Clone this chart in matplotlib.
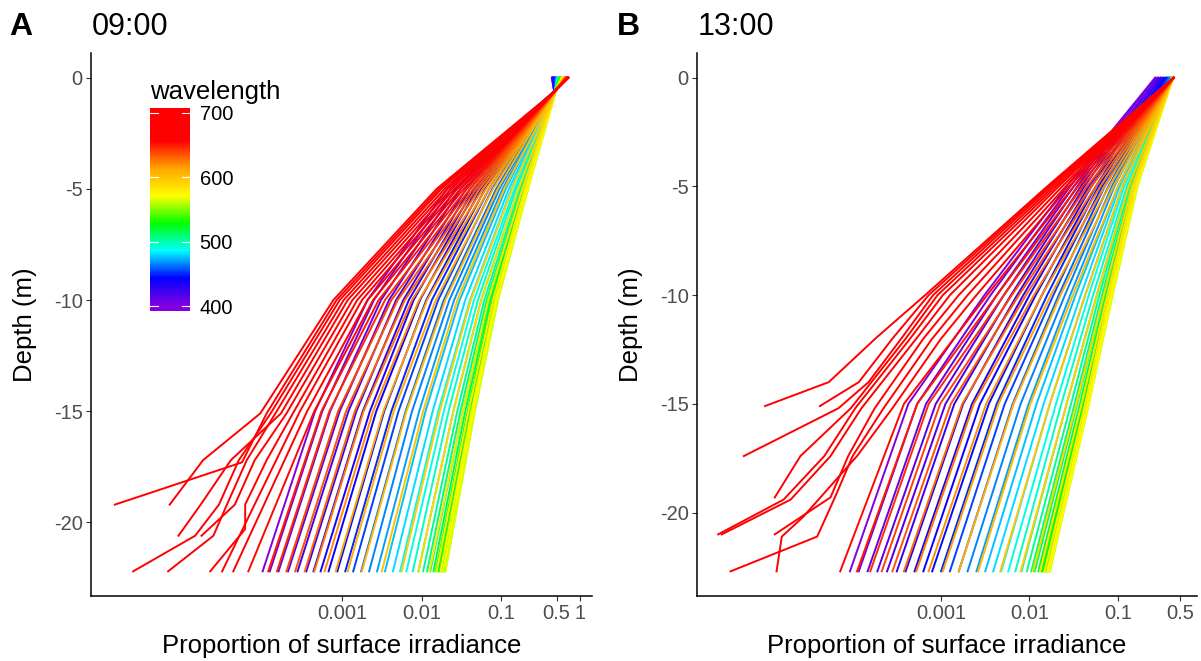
import matplotlib
matplotlib.use("Agg")
import matplotlib.pyplot as plt
import numpy as np
from matplotlib.colors import LinearSegmentedColormap, Normalize

plt.rcParams["font.family"] = ["Liberation Sans", "DejaVu Sans"]

wavelength = list(range(400, 701, 5))

# values are log10(proportion of surface irradiance)
# ---- A, 09:00 ----
depth_a = [0, -0.6, -5, -10, -15, -22.2]
a_0 = [-0.36, -0.36, -0.35, -0.35, -0.35, -0.34, -0.34, -0.33, -0.33, -0.32,
       -0.32, -0.31, -0.31, -0.30, -0.30, -0.29, -0.29, -0.28, -0.28, -0.28,
       -0.27, -0.27, -0.27, -0.26, -0.26, -0.26, -0.25, -0.25, -0.25, -0.24,
       -0.24, -0.24, -0.23, -0.23, -0.23, -0.22, -0.22, -0.22, -0.21, -0.21,
       -0.21, -0.20, -0.20, -0.20, -0.19, -0.19, -0.19, -0.18, -0.18, -0.18,
       -0.17, -0.17, -0.17, -0.17, -0.16, -0.16, -0.16, -0.16, -0.15, -0.15,
       -0.15]
a_06 = [-0.33] * 11 + [-0.32] * 20 + [-0.31] * 10 + [-0.32] * 20
a_5 = [-1.68, -1.63, -1.57, -1.51, -1.44, -1.39, -1.34, -1.30, -1.25, -1.20,
       -1.15, -1.11, -1.06, -1.02, -0.98, -0.94, -0.90, -0.87, -0.83, -0.81,
       -0.78, -0.76, -0.74, -0.73, -0.71, -0.70, -0.69, -0.69, -0.68, -0.67,
       -0.67, -0.67, -0.66, -0.66, -0.67, -0.68, -0.70, -0.73, -0.78, -0.86,
       -0.96, -1.04, -1.10, -1.15, -1.19, -1.23, -1.27, -1.31, -1.35, -1.39,
       -1.43, -1.47, -1.51, -1.55, -1.59, -1.63, -1.67, -1.71, -1.75, -1.78,
       -1.81]
a_10 = [-2.68, -2.60, -2.51, -2.41, -2.32, -2.23, -2.16, -2.10, -2.02, -1.94,
        -1.87, -1.79, -1.72, -1.65, -1.59, -1.52, -1.45, -1.39, -1.34, -1.29,
        -1.25, -1.21, -1.18, -1.15, -1.13, -1.11, -1.09, -1.08, -1.07, -1.06,
        -1.05, -1.04, -1.04, -1.04, -1.06, -1.07, -1.10, -1.16, -1.25, -1.38,
        -1.55, -1.70, -1.82, -1.93, -2.03, -2.12, -2.21, -2.30, -2.38, -2.46,
        -2.54, -2.61, -2.68, -2.75, -2.81, -2.87, -2.93, -2.98, -3.03, -3.07,
        -3.11]
a_15 = [-3.34, -3.25, -3.15, -3.03, -2.92, -2.82, -2.74, -2.65, -2.57, -2.47,
        -2.38, -2.29, -2.20, -2.12, -2.03, -1.95, -1.86, -1.79, -1.72, -1.66,
        -1.60, -1.55, -1.51, -1.48, -1.45, -1.42, -1.40, -1.38, -1.37, -1.35,
        -1.34, -1.34, -1.33, -1.33, -1.35, -1.37, -1.41, -1.48, -1.60, -1.77,
        -1.98, -2.19, -2.35, -2.48, -2.61, -2.73, -2.84, -2.95, -3.05, -3.16,
        -3.26, -3.35, -3.44, -3.53] + [None] * 7
a_22 = [-4.00, -3.91, -3.80, -3.68, -3.56, -3.45, -3.36, -3.27, -3.17, -3.06,
        -2.96, -2.86, -2.76, -2.66, -2.56, -2.46, -2.36, -2.27, -2.19, -2.11,
        -2.04, -1.98, -1.93, -1.89, -1.85, -1.82, -1.79, -1.77, -1.75, -1.73,
        -1.72, -1.71, -1.70, -1.70, -1.73, -1.76, -1.81, -1.90, -2.04, -2.25,
        -2.50, -2.75, -2.93, -3.08, -3.22, -3.35, -3.47, -3.59, -3.70, -3.82,
        -3.93, -4.18, -4.37, -4.51] + [None] * 7
# deepest red profiles are noisy, (depth, value) pairs below 10 m
tail_a = {
    670: [(-15.1, -3.62), (-17.2, -3.95), (-19.2, -4.22), (-20.3, -4.22), (-22.2, -4.66)],
    675: [(-15.1, -3.70), (-17.2, -4.10), (-19.2, -4.35), (-20.6, -4.77)],
    680: [(-15.1, -3.77), (-17.2, -4.40), (-19.2, -4.78), (-20.6, -5.06)],
    685: [(-15.1, -3.84), (-17.2, -4.20), (-19.2, -4.45), (-20.6, -4.62), (-22.2, -5.19)],
    690: [(-15.1, -3.90), (-17.2, -4.30), (-19.2, -4.55), (-20.6, -4.85), (-22.2, -5.63)],
    695: [(-15.1, -3.95), (-17.3, -4.26), (-19.2, -5.86)],
    700: [(-15.1, -4.03), (-17.2, -4.75), (-19.2, -5.17)],
}

# ---- B, 13:00 ----
depth_b = [0, -5, -10, -15, -22.7]
b_0 = ([-0.58, -0.57, -0.55, -0.54, -0.52, -0.51, -0.49, -0.48, -0.46, -0.45,
        -0.44, -0.43, -0.42, -0.41, -0.40]
       + [-0.39] * 14 + [-0.38] * 12 + [-0.37] * 20)
b_5 = [-1.58, -1.54, -1.50, -1.46, -1.42, -1.38, -1.33, -1.30, -1.25, -1.22,
       -1.18, -1.15, -1.11, -1.07, -1.04, -1.00, -0.98, -0.95, -0.93, -0.90,
       -0.88, -0.87, -0.85, -0.84, -0.83, -0.82, -0.81, -0.81, -0.80, -0.79,
       -0.79, -0.79, -0.78, -0.78, -0.79, -0.79, -0.80, -0.82, -0.84, -0.88,
       -0.95, -1.00, -1.05, -1.10, -1.15, -1.20, -1.25, -1.30, -1.35, -1.40,
       -1.45, -1.50, -1.55, -1.59, -1.63, -1.67, -1.70, -1.73, -1.76, -1.78,
       -1.80]
b_10 = [-2.51, -2.44, -2.37, -2.29, -2.21, -2.14, -2.07, -2.00, -1.93, -1.86,
        -1.80, -1.73, -1.67, -1.60, -1.54, -1.48, -1.42, -1.37, -1.33, -1.28,
        -1.24, -1.21, -1.18, -1.16, -1.14, -1.12, -1.11, -1.10, -1.09, -1.08,
        -1.07, -1.07, -1.06, -1.06, -1.07, -1.08, -1.10, -1.12, -1.16, -1.24,
        -1.37, -1.51, -1.65, -1.76, -1.86, -1.95, -2.04, -2.12, -2.20, -2.29,
        -2.37, -2.48, -2.60, -2.70, -2.80, -2.90, -2.98, -3.04, -3.09, -3.14,
        -3.18]
b_15 = [-3.37, -3.27, -3.17, -3.06, -2.95, -2.85, -2.75, -2.65, -2.56, -2.46,
        -2.37, -2.28, -2.19, -2.10, -2.01, -1.92, -1.84, -1.77, -1.70, -1.64,
        -1.58, -1.53, -1.49, -1.46, -1.43, -1.40, -1.39, -1.37, -1.36, -1.35,
        -1.34, -1.33, -1.33, -1.33, -1.33, -1.35, -1.37, -1.41, -1.47, -1.58,
        -1.77, -1.99, -2.18, -2.35, -2.49, -2.63, -2.76, -2.89, -3.01, -3.14,
        -3.27, -3.42] + [None] * 9
b_22 = [-4.03, -3.93, -3.83, -3.72, -3.61, -3.50, -3.40, -3.30, -3.20, -3.10,
        -3.00, -2.90, -2.80, -2.70, -2.60, -2.50, -2.41, -2.32, -2.24, -2.16,
        -2.09, -2.03, -1.98, -1.94, -1.90, -1.87, -1.85, -1.83, -1.81, -1.80,
        -1.79, -1.78, -1.77, -1.77, -1.78, -1.80, -1.83, -1.88, -1.96, -2.10,
        -2.33, -2.58, -2.80, -2.98, -3.14, -3.28, -3.42, -3.55, -3.67, -3.80,
        -3.95, -4.14] + [None] * 9
tail_b = {
    660: [(-12.0, -3.00), (-15.2, -3.55), (-17.4, -3.95), (-20.2, -4.56), (-21.1, -4.80), (-22.7, -4.86)],
    665: [(-12.0, -3.10), (-15.2, -3.65), (-17.4, -4.00), (-19.3, -4.20), (-21.1, -4.40), (-22.7, -5.38)],
    670: [(-12.0, -3.20), (-15.2, -3.75), (-17.4, -4.05), (-19.3, -4.25), (-21.0, -4.88)],
    675: [(-12.0, -3.28), (-15.2, -3.90), (-17.4, -4.25), (-19.4, -4.70), (-21.0, -5.48)],
    680: [(-12.0, -3.35), (-15.2, -3.97), (-17.4, -4.32), (-19.4, -4.78), (-21.0, -5.52)],
    685: [(-12.0, -3.40), (-15.2, -4.02), (-17.4, -4.59), (-19.3, -4.88)],
    690: [(-12.0, -3.45), (-14.0, -3.82), (-15.2, -4.16), (-17.4, -5.23)],
    695: [(-12.0, -3.55), (-14.0, -3.93), (-15.1, -4.37)],
    700: [(-11.95, -3.73), (-14.0, -4.27), (-15.1, -4.99)],
}

cmap = LinearSegmentedColormap.from_list(
    "wl", ["#8200E0", "#0000FF", "#00FFFF", "#00FF00",
           "#FFFF00", "#FFA500", "#FF0000", "#FF0000"])
norm = Normalize(400, 700)


def draw(ax, depths, cols, tails):
    for i, wl in enumerate(wavelength):
        d, v = [], []
        for dep, col in zip(depths, cols):
            if col[i] is not None:
                d.append(dep)
                v.append(col[i])
        for dep, val in tails.get(wl, []):
            d.append(dep)
            v.append(val)
        ax.plot(10 ** np.array(v), d, color=cmap(norm(wl)), lw=1.4)


def style(ax, xticks, xlabels, xlim, ylim):
    ax.set_xscale("log")
    ax.set_xlim(*xlim)
    ax.set_ylim(*ylim)
    ax.set_xticks(xticks)
    ax.set_xticklabels(xlabels)
    ax.xaxis.set_minor_locator(matplotlib.ticker.NullLocator())
    ax.set_yticks([0, -5, -10, -15, -20])
    ax.set_yticklabels(["0", "-5", "-10", "-15", "-20"])
    for s in ["top", "right"]:
        ax.spines[s].set_visible(False)
    for s in ["left", "bottom"]:
        ax.spines[s].set_linewidth(1.1)
    ax.tick_params(direction="out", length=3.5, width=0.8, color="#333333",
                   labelcolor="#4D4D4D", labelsize=14.5, pad=2.5)
    ax.set_xlabel("Proportion of surface irradiance", fontsize=18.5, va="center")
    ax.set_ylabel("Depth (m)", fontsize=18.5, va="center")
    ax.xaxis.set_label_coords(0.5, -0.092)
    ax.yaxis.set_label_coords(-0.132, 0.5)


fig = plt.figure(figsize=(12.01, 6.61), dpi=100)
ax_a = fig.add_axes([0.0758, 0.0983, 0.4171, 0.8215])
ax_b = fig.add_axes([0.5803, 0.0983, 0.4163, 0.8215])

draw(ax_a, depth_a, [a_0, a_06, a_5, a_10, a_15, a_22], tail_a)
draw(ax_b, depth_b, [b_0, b_5, b_10, b_15, b_22], tail_b)

style(ax_a, [0.001, 0.01, 0.1, 0.5, 1], ["0.001", "0.01", "0.1", "0.5", "1"],
      (10 ** -6.16, 10 ** 0.145), (-23.31, 1.11))
style(ax_b, [0.001, 0.01, 0.1, 0.5], ["0.001", "0.01", "0.1", "0.5"],
      (10 ** -5.76, 10 ** -0.107), (-23.835, 1.135))

fig.text(0.0075, 0.959, "A", fontsize=23, fontweight="bold", va="center")
fig.text(0.0766, 0.959, "09:00", fontsize=22, va="center")
fig.text(0.5140, 0.959, "B", fontsize=23, fontweight="bold", va="center")
fig.text(0.5811, 0.959, "13:00", fontsize=22, va="center")

# colour bar legend
fig.text(0.1249, 0.861, "wavelength", fontsize=18.5, va="center")
cax = fig.add_axes([0.1249, 0.5295, 0.0333, 0.3071])
grad = np.linspace(392.5, 707.5, 300).reshape(-1, 1)
cax.imshow(grad, cmap=cmap, norm=norm, aspect="auto", origin="lower",
           extent=(0, 1, 392.5, 707.5))
cax.set_xlim(0, 1)
cax.set_ylim(392.5, 707.5)
cax.set_xticks([])
cax.yaxis.tick_right()
cax.set_yticks([400, 500, 600, 700])
cax.tick_params(axis="y", length=0, labelsize=14.5, labelcolor="black", pad=7)
for s in cax.spines.values():
    s.set_visible(False)
for t in [400, 500, 600, 700]:
    cax.plot([0, 0.2], [t, t], color="white", lw=0.8)
    cax.plot([0.8, 1], [t, t], color="white", lw=0.8)

fig.savefig("out.png", dpi=100)
